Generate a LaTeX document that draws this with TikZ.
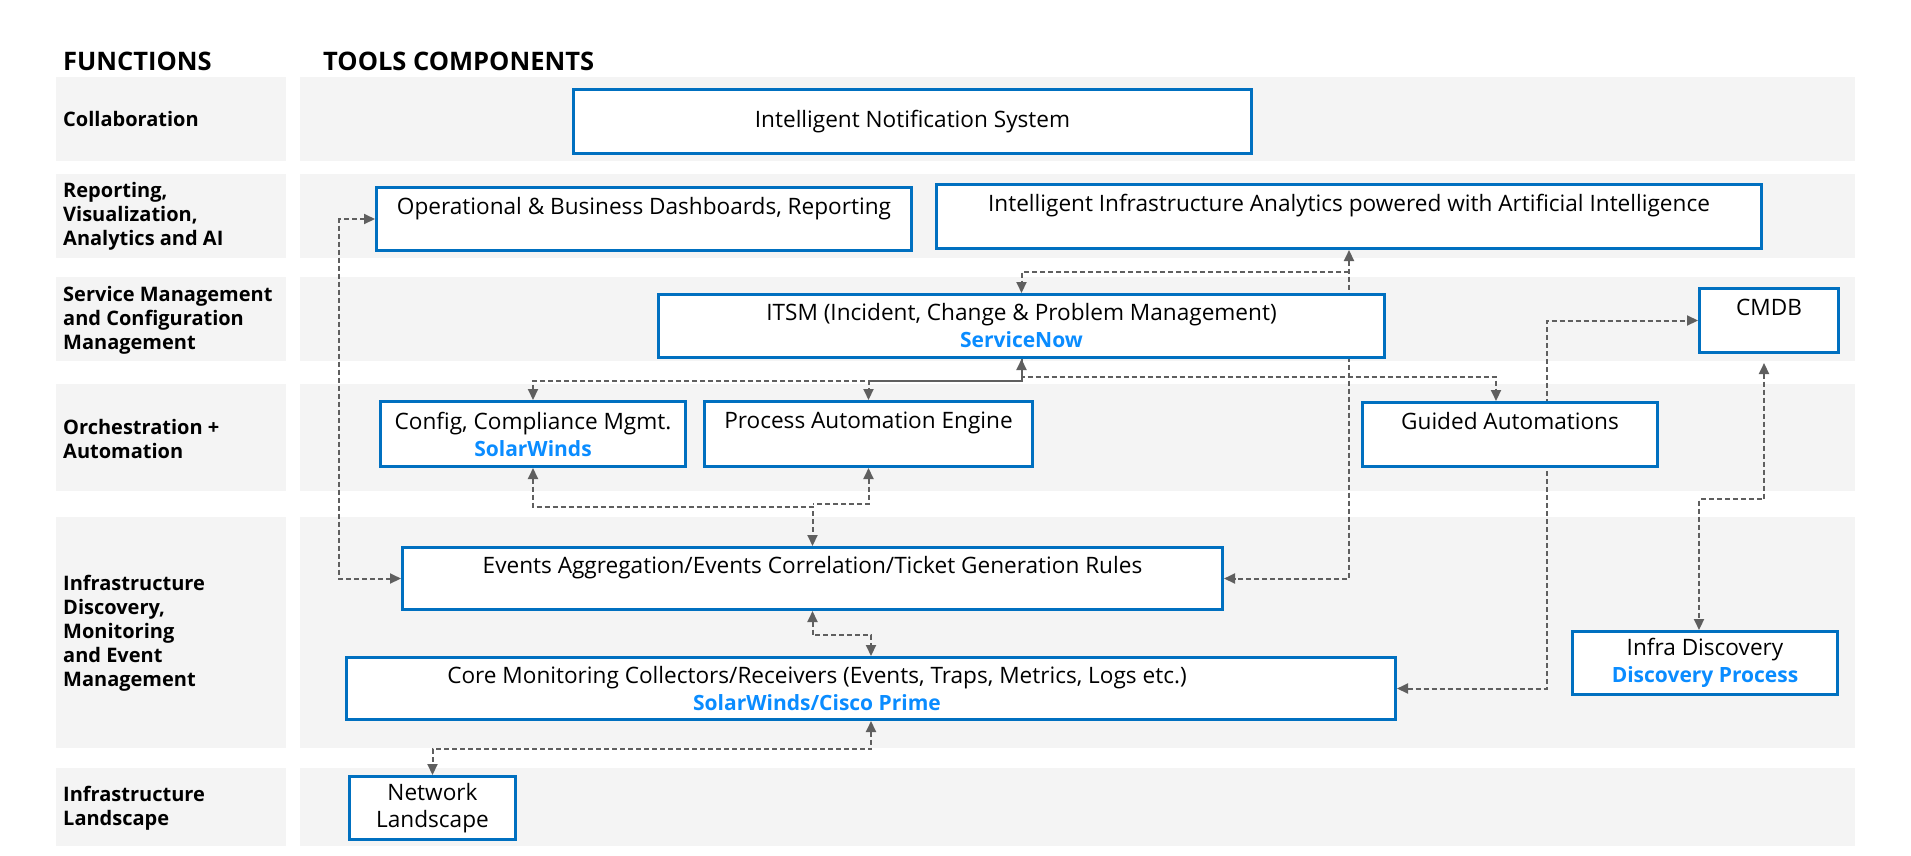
\documentclass[tikz,border=0pt]{standalone}
\usepackage{fontspec}
\setmainfont{Open Sans}
\usetikzlibrary{arrows.meta}

\definecolor{panelgray}{HTML}{F4F4F4}
\definecolor{boxblue}{HTML}{0070C0}
\definecolor{toolblue}{HTML}{0A8CFF}
\definecolor{linkgray}{HTML}{5F5F5F}
\newcommand{\toolname}[1]{{\fontsize{21}{27}\selectfont\bfseries\color{toolblue}#1}}

\pgfdeclarelayer{back}
\pgfdeclarelayer{links}
\pgfsetlayers{back,links,main}

\begin{document}
\begin{tikzpicture}[x=1pt,y=-1pt,
    box/.style={draw=boxblue, line width=3pt, fill=white, align=center, anchor=north west,
        inner sep=0pt, font=\fontsize{22.6}{27}\selectfont},
    func/.style={anchor=west, align=left, inner sep=0pt, font=\bfseries\fontsize{20}{24}\selectfont},
    head/.style={anchor=west, inner sep=0pt, font=\bfseries\fontsize{25.5}{28}\selectfont},
    link/.style={draw=linkgray, line width=2pt, dash pattern=on 5pt off 3pt,
        >={Triangle[length=11pt,width=10pt]}}]

    \useasboundingbox (0,0) rectangle (1911,855);

    % row panels
    \begin{pgfonlayer}{back}
    \foreach \t/\b in {77/161,174/258,277/361,384/491,517/748,768/846}{%
        \fill[panelgray] (56,\t) rectangle (286,\b);
        \fill[panelgray] (300,\t) rectangle (1855,\b);}
    \end{pgfonlayer}

    % headings and functions
    \node[head] (hfunc)  at (63,61)  {FUNCTIONS};
    \node[head] (htools) at (323,61) {TOOLS COMPONENTS};

    \node[func] (fcollab)  at (63,119) {Collaboration};
    \node[func] (freport)  at (63,216) {Reporting,\\Visualization,\\Analytics and AI};
    \node[func] (fservice) at (63,320) {Service Management\\and Configuration\\Management};
    \node[func] (forch)    at (63,439) {Orchestration +\\Automation};
    \node[func] (fdisc)    at (63,633) {Infrastructure\\Discovery,\\Monitoring\\and Event\\Management};
    \node[func] (fland)    at (63,808) {Infrastructure\\Landscape};

    % tool components
    \node[box, minimum width=678pt, minimum height=64pt] (notif) at (572,88) {Intelligent Notification System};
    \node[box, minimum width=535pt, minimum height=63pt] (dash) at (375,186) {Operational \& Business Dashboards, Reporting\\\mbox{}};
    \node[box, minimum width=825pt, minimum height=64pt] (ai) at (935,183) {Intelligent Infrastructure Analytics powered with Artificial Intelligence\\\mbox{}};
    \node[box, minimum width=726pt, minimum height=63pt] (itsm) at (657,293) {ITSM (Incident, Change \& Problem Management)\\\toolname{ServiceNow}};
    \node[box, minimum width=139pt, minimum height=64pt] (cmdb) at (1698,287) {CMDB\\\mbox{}};
    \node[box, minimum width=305pt, minimum height=65pt] (cfg) at (379,400) {Config, Compliance Mgmt.\\\toolname{SolarWinds}};
    \node[box, minimum width=328pt, minimum height=65pt] (pae) at (703,400) {Process Automation Engine\\\mbox{}};
    \node[box, minimum width=295pt, minimum height=64pt] (guided) at (1361,401) {Guided Automations\\\mbox{}};
    \node[box, minimum width=820pt, minimum height=62pt] (evt) at (401,546) {Events Aggregation/Events Correlation/Ticket Generation Rules\\\mbox{}};
    \node[box, minimum width=1049pt, minimum height=62pt] (core) at (345,656) {Core Monitoring Collectors/Receivers (Events, Traps, Metrics, Logs etc.)\hspace*{108pt}\\\toolname{SolarWinds/Cisco Prime}\hspace*{108pt}};
    \node[box, minimum width=265pt, minimum height=63pt] (disc) at (1571,630) {Infra Discovery\\\toolname{Discovery Process}};
    \node[box, minimum width=166pt, minimum height=63pt] (net) at (348,775) {Network\\Landscape};

    % connectors
    \begin{pgfonlayer}{links}
    \draw[link,<->] (dash.west) -- ++(-36,0) |- (evt.west);
    \draw[link,<->] (ai.south) |- (evt.east);
    \draw[link,->] ([yshift=-22pt]ai.south) -| (itsm.north);
    \draw[link,<->] (itsm.south) -- ++(0,22) -| (cfg.north);
    \draw[link,->] ([yshift=-22pt]itsm.south) -| (pae.north);
    \draw[link,->] (itsm.south) -- ++(0,18) -| ([xshift=-14pt]guided.north);
    \draw[link,<->] (cfg.south) -- ++(0,39) -| (evt.north);
    \draw[link,<-] (pae.south) |- ([yshift=42pt]evt.north);
    \draw[link,<->] (evt.south) -- ++(0,24) -| (core.north);
    \draw[link,<->] (core.south) -- ++(0,28) -| (net.north);
    \draw[link,<->] (core.east) -| ([xshift=36.5pt]guided.center) |- (cmdb.west);
    \draw[link,<->,shorten <=9pt] ([xshift=-5pt]cmdb.south) -- ++(0,145) -| ([xshift=-6pt]disc.north);
    \end{pgfonlayer}
\end{tikzpicture}
\end{document}
